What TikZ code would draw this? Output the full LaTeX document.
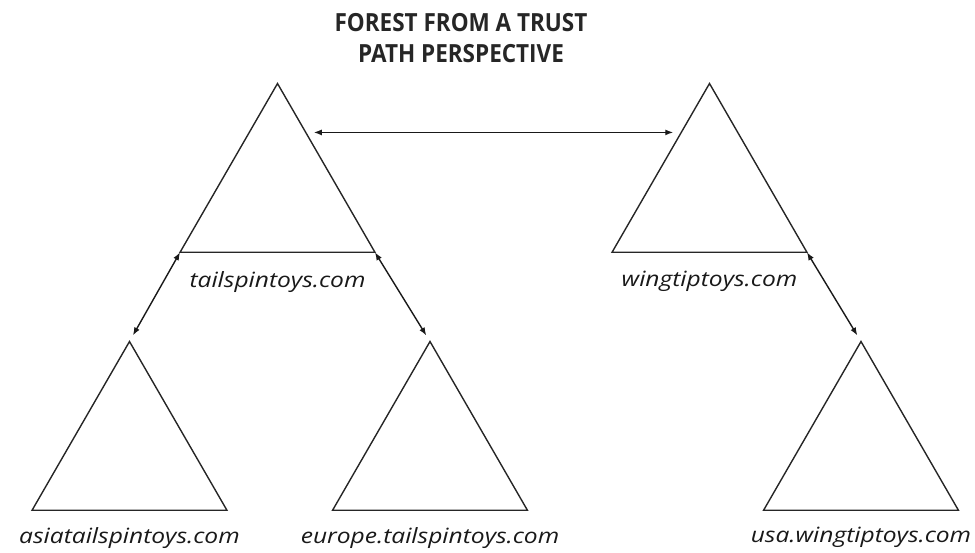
\documentclass[tikz,border=0pt]{standalone}
\usepackage{fontspec}
\setmainfont{Open Sans}
\newfontfamily\titlefont[FakeStretch=0.9]{Open Sans}
\newfontfamily\namefont[FakeStretch=1.17]{Open Sans}
\usetikzlibrary{shapes.geometric, arrows.meta, positioning, calc}

\begin{document}
\begin{tikzpicture}[x=1pt, y=-1pt,
        domaintree/.style={regular polygon, regular polygon sides=3, draw=black!85, line width=1.4pt, minimum size=225pt, inner sep=0pt, outer sep=0pt},
        dname/.style={font=\namefont\fontsize{21}{24}\selectfont\itshape, text=black!90, inner sep=0pt},
        trust/.style={{Latex[length=8pt,width=6pt]}-{Latex[length=8pt,width=6pt]}, line width=1.4pt, black!90}
    ]
        \useasboundingbox (0,0) rectangle (975,552);

        % Title
        \node[font=\titlefont\fontsize{25}{31}\selectfont\bfseries, align=center, text=black!85] (title) at (461,38) {FOREST FROM A TRUST\\PATH PERSPECTIVE};

        % Tree roots
        \node[domaintree] (tail) at (277.5,196) {};
        \node[domaintree] (wing) at (709.5,196) {};

        % Child domains
        \node[domaintree] (asia) at (129.5,454) {};
        \node[domaintree] (europe) at (430,454) {};
        \node[domaintree] (usa) at (861,454) {};

        % Domain names
        \node[dname, below=19pt of tail.side 2] (tailname) {tailspintoys.com};
        \node[dname, below=19pt of wing.side 2] (wingname) {wingtiptoys.com};
        \node[dname, below=17pt of asia.side 2] (asianame) {asiatailspintoys.com};
        \node[dname, below=17pt of europe.side 2] (europename) {europe.tailspintoys.com};
        \node[dname, below=17pt of usa.side 2] (usaname) {usa.wingtiptoys.com};

        % Trusts
        \draw[trust] ($(tail.corner 1)!0.29!(tail.corner 3)+(8,0)$) -- ($(wing.corner 1)!0.29!(wing.corner 2)+(-8,0)$);
        \draw[trust, shorten >=7pt] (tail.corner 2) -- (asia.corner 1);
        \draw[trust, shorten >=7pt] (tail.corner 3) -- (europe.corner 1);
        \draw[trust, shorten >=7pt] (wing.corner 3) -- (usa.corner 1);

    \end{tikzpicture}
\end{document}
